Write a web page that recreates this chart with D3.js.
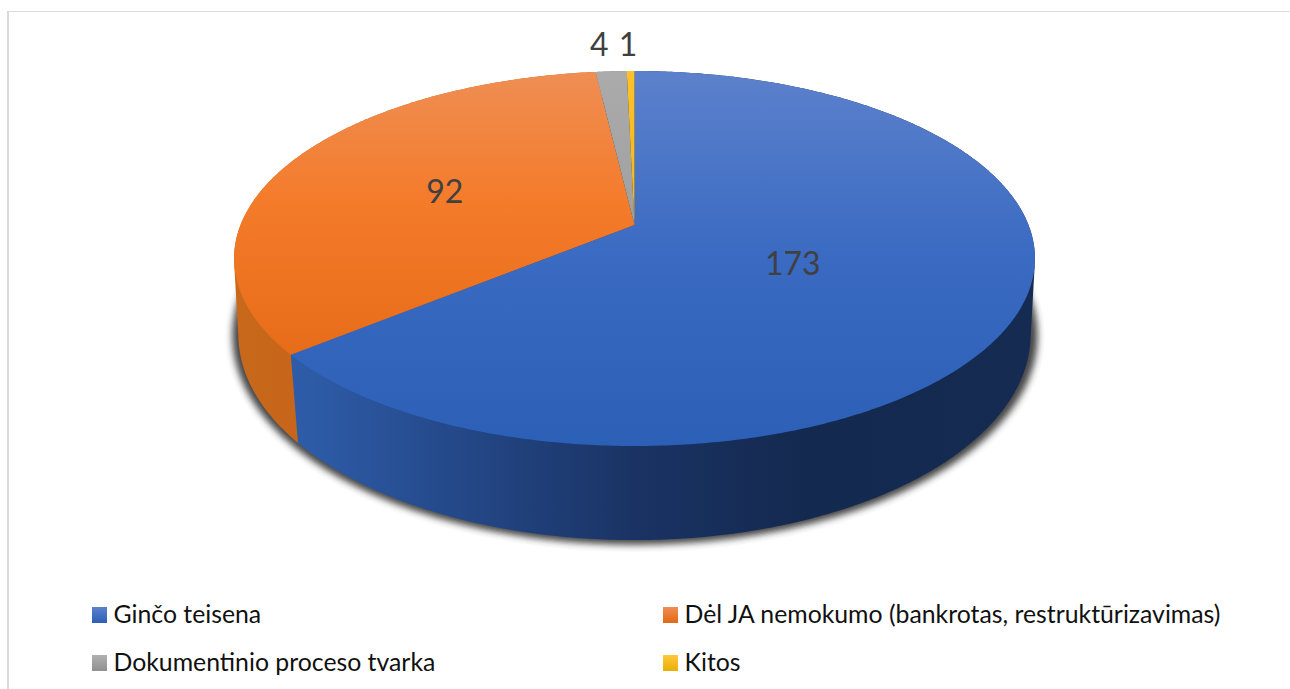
<!DOCTYPE html>
<html><head><meta charset="utf-8">
<style>html,body{margin:0;padding:0;background:#fff}svg{display:block}text{font-family:Lato,"Open Sans",sans-serif}</style>
<script src="https://cdn.jsdelivr.net/npm/d3@7"></script></head>
<body><div id="c"></div>
<script>
const categories = ["Ginčo teisena","Dėl JA nemokumo (bankrotas, restruktūrizavimas)","Dokumentinio proceso tvarka","Kitos"];
const values = [173,92,4,1];

const W=1290,H=689;
const svg=d3.select("#c").append("svg").attr("width",W).attr("height",H);
const defs=svg.append("defs");

// perspective projection of the top rim (0) and bottom rim (1) of the 3-D pie
const cx=634.5;
const rims=[{a:394,y0:225,p:-141.3,k:0.1787},{a:391,y0:301.7,p:-152,k:0.16}];
function proj(r,ang,z){
  const c=rims[z],X=r*Math.sin(ang),Y=r*Math.cos(ang),w=1+c.k*Y;
  return [cx+c.a*X/w,(c.y0+c.p*Y)/w];
}
const arcs=d3.pie().sort(null).startAngle(0).endAngle(2*Math.PI)(values);
const line=d3.line();
const samples=(a0,a1)=>{const n=Math.max(2,Math.ceil((a1-a0)/0.01));return d3.range(n+1).map(i=>a0+(a1-a0)*i/n);};

const faceStops=[
 [["0","#5c81cc"],["0.5","#3a6ac2"],["1","#2c5fb6"]],
 [["0","#ef8e54"],["0.35","#f47b2a"],["0.8","#e56b17"],["1","#e26816"]],
 [["0","#ababab"],["1","#8f8f8f"]],
 [["0","#fdc12a"],["1","#e0a800"]]];
const sideStops=[
 [["0","#2f60ad"],["0.1","#2d5ba6"],["0.3","#234685"],["0.5","#1a3364"],["0.72","#14294f"],["1","#162b52"]],
 [["0","#c8681b"],["0.15","#c66418"],["1","#c66418"]],
 [["0","#777"],["1","#777"]],
 [["0","#b98a00"],["1","#b98a00"]]];
const legendStops=[
 [["0","#5c81cc"],["1","#2c5fb6"]],
 [["0","#ef8e54"],["1","#e26816"]],
 [["0","#b0b0b0"],["1","#909090"]],
 [["0","#ffc83d"],["1","#e8ae08"]]];
function grad(id,stops,attrs){
  const g=defs.append("linearGradient").attr("id",id);
  Object.entries(attrs).forEach(([k,v])=>g.attr(k,v));
  stops.forEach(s=>g.append("stop").attr("offset",s[0]).attr("stop-color",s[1]));
}
values.forEach((v,i)=>{
  grad("face"+i,faceStops[i],{gradientUnits:"userSpaceOnUse",x1:0,x2:0,y1:71,y2:446});
  grad("side"+i,sideStops[i],{gradientUnits:"userSpaceOnUse",x1:234,x2:1035,y1:0,y2:0});
  grad("leg"+i,legendStops[i],{x1:0,x2:0,y1:0,y2:1});
});
const blur=defs.append("filter").attr("id","shadow").attr("x","-10%").attr("y","-10%").attr("width","120%").attr("height","125%");
blur.append("feGaussianBlur").attr("stdDeviation",3.5);

// chart frame
svg.append("path").attr("d",line([[8,H],[8,11]])).attr("fill","none").attr("stroke","#d9d9d9").attr("stroke-width",2);
svg.append("path").attr("d",line([[7,11.5],[W,11.5]])).attr("fill","none").attr("stroke","#d9d9d9").attr("stroke-width",1);

// soft shadow below the pie
const full=samples(0,2*Math.PI);
svg.append("path")
  .attr("d",line(full.map(a=>proj(1.016,a,1)))+"Z")
  .attr("fill","#303030").attr("opacity",0.9).attr("filter","url(#shadow)")
  .attr("transform","translate(0.5,0)");

// walls: hull of each slice's top and bottom rim, drawn back to front
svg.append("g").selectAll("path").data(arcs.map((d,i)=>({d,i})).reverse()).join("path")
  .attr("d",o=>{
    const t=samples(o.d.startAngle,o.d.endAngle);
    return line(d3.polygonHull(t.map(a=>proj(1,a,0)).concat(t.map(a=>proj(1,a,1)))))+"Z";
  })
  .attr("fill",o=>`url(#side${o.i})`);

// top faces
svg.append("g").selectAll("path").data(arcs).join("path")
  .attr("d",d=>line([proj(0,0,0)].concat(samples(d.startAngle,d.endAngle).map(a=>proj(1,a,0))))+"Z")
  .attr("fill",(d,i)=>`url(#face${i})`);

// value labels
const labelR=[0.43,0.55,1.205,1.205], labelDx=[0,4,-8,-2], labelDy=[4,3,0,0];
svg.append("g").selectAll("text").data(arcs).join("text")
  .attr("x",(d,i)=>proj(labelR[i],(d.startAngle+d.endAngle)/2,0)[0]+labelDx[i])
  .attr("y",(d,i)=>proj(labelR[i],(d.startAngle+d.endAngle)/2,0)[1]+labelDy[i]+11)
  .attr("text-anchor","middle").attr("font-size",32).attr("fill","#404040")
  .text(d=>d.value);

// legend
const legX=d3.scaleOrdinal().domain([0,1]).range([92,663]);
const legY=d3.scaleOrdinal().domain([0,1]).range([607,655]);
const leg=svg.append("g").selectAll("g").data(categories).join("g")
  .attr("transform",(d,i)=>`translate(${legX(i%2)},${legY(Math.floor(i/2))})`);
leg.append("rect").attr("width",15).attr("height",16).attr("fill",(d,i)=>`url(#leg${i})`);
leg.append("text").attr("x",21.5).attr("y",16).attr("font-size",24.8).attr("fill","#111").text(d=>d);
</script></body></html>
